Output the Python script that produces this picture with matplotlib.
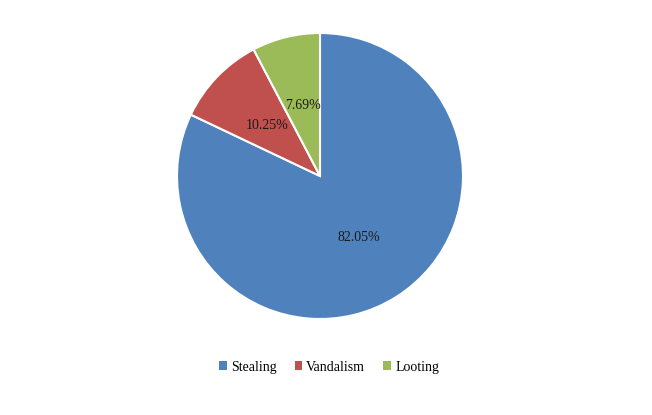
import matplotlib
matplotlib.use("Agg")
import matplotlib.pyplot as plt
from matplotlib.patches import Patch

categories = ["Stealing", "Vandalism", "Looting"]
values = [82.05, 10.25, 7.69]
colors = ["#4F81BD", "#C0504D", "#9BBB59"]

plt.rcParams['font.family'] = ['Liberation Serif', 'DejaVu Serif']

W, H = 652, 415
fig = plt.figure(figsize=(W/100, H/100), dpi=100)
cx, cy, r = 320, 176, 143
ax = fig.add_axes([(cx - r)/W, (H - cy - r)/H, 2*r/W, 2*r/H])
wedges, texts, autotexts = ax.pie(values, colors=colors, startangle=90, counterclock=False,
       autopct="%.2f%%", pctdistance=0.51,
       wedgeprops=dict(edgecolor="white", linewidth=1.5),
       textprops=dict(fontsize=10, color="#1a1a1a"))
for t, v in zip(autotexts, values):
    t.set_text(f"{v:.2f}%")
ax.set_xlim(-1, 1)
ax.set_ylim(-1, 1)
ax.set_aspect("equal")

handles = [Patch(facecolor=c, edgecolor="none") for c in colors]
fig.legend(handles, categories, loc="center", bbox_to_anchor=(329/W, 1 - 367/H), ncol=3,
           frameon=False, fontsize=10, handlelength=0.55, handleheight=0.55,
           handletextpad=0.3, columnspacing=1.3)

fig.savefig("out.png", dpi=100)
